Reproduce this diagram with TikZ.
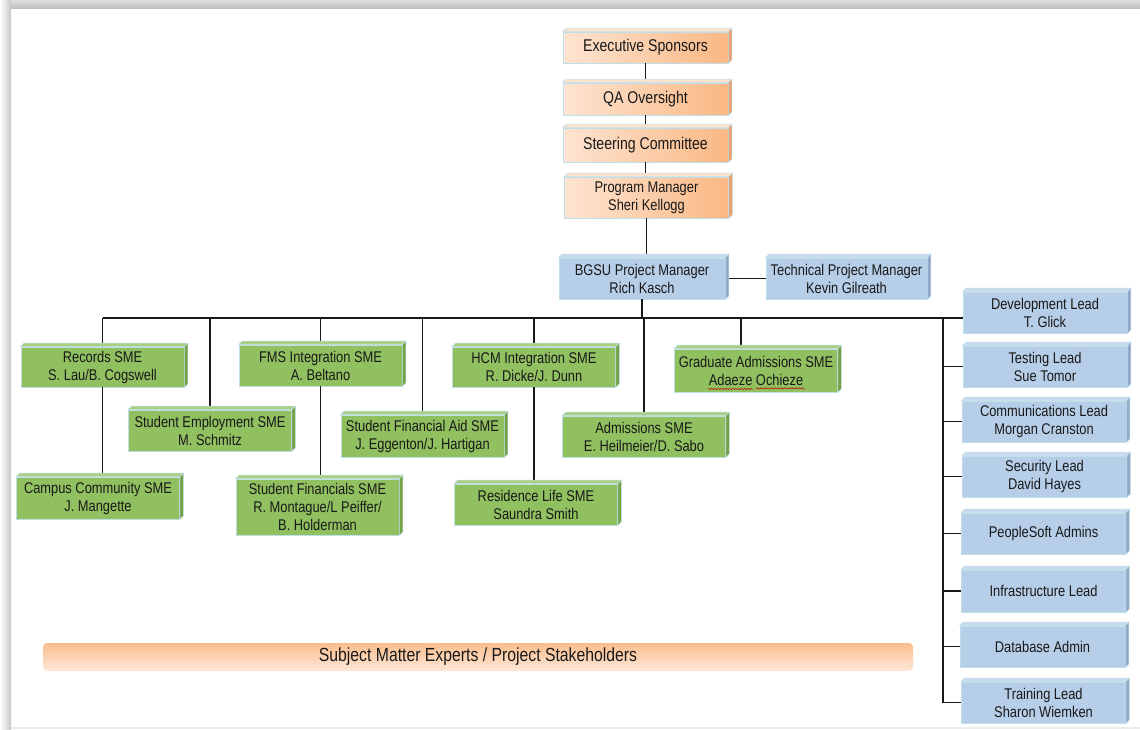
\documentclass[tikz,border=0pt]{standalone}
\usepackage{fontspec}
\setmainfont{Liberation Sans}[FakeStretch=0.83]
\usetikzlibrary{positioning,decorations.pathmorphing}

\definecolor{rim}{RGB}{190,222,232}
\definecolor{orgL}{RGB}{253,228,210}
\definecolor{orgR}{RGB}{250,184,132}
\definecolor{orgS}{RGB}{232,160,108}
\definecolor{orgT}{RGB}{253,226,206}
\definecolor{bluF}{RGB}{183,206,233}
\definecolor{bluS}{RGB}{146,170,200}
\definecolor{bluT}{RGB}{202,219,239}
\definecolor{grnF}{RGB}{145,192,96}
\definecolor{grnS}{RGB}{118,163,70}
\definecolor{grnT}{RGB}{170,206,130}
\definecolor{ink}{RGB}{25,25,25}
\definecolor{banT}{RGB}{251,190,140}
\definecolor{banB}{RGB}{253,231,216}

\begin{document}
\begin{tikzpicture}[x=1pt,y=-1pt,
    box/.style={draw=rim,line width=0.8pt,text=ink,align=center,inner sep=1pt,
      font=\fontsize{15.5}{18}\selectfont,minimum width=163pt,minimum height=41pt},
    orn/.style={box,left color=orgL,right color=orgR,font=\fontsize{17}{19}\selectfont,minimum width=165pt},
    blu/.style={box,fill=bluF},
    grn/.style={box,fill=grnF},
    banner/.style={rounded corners=4pt,top color=banT,bottom color=banB,text=ink,
      minimum width=870pt,minimum height=28pt,font=\fontsize{19}{21}\selectfont},
    link/.style={draw=ink,line width=1.2pt}]
    \useasboundingbox (0,0) rectangle (1140,729);
    % page frame
    \fill[white] (0,0) rectangle (1140,729);
    \shade[top color=gray!25,bottom color=gray!50] (0,0) rectangle (1140,8);
    \shade[left color=white,right color=gray!45] (0,0) rectangle (11,729);
    \fill[gray!15] (11,727) rectangle (1140,729);

    % top chain
    \node[orn,minimum height=31pt] (exec) at (645.5,47.5) {Executive Sponsors};
    \node[orn,minimum height=32pt] (qa) at (645.5,99) {QA Oversight};
    \node[orn,minimum height=34pt] (steer) at (645.5,145) {Steering Committee};
    \node[orn,font=\fontsize{15.5}{18}\selectfont,minimum width=164pt] (pm) at (646.5,197.5) {Program Manager\\Sheri Kellogg};
    \node[blu,minimum width=166pt] (bgsu) at (642,278.5) {BGSU Project Manager\\Rich Kasch};
    \node[blu,minimum width=161pt] (tech) at (846.5,278.5) {Technical Project Manager\\Kevin Gilreath};

    % leads
    \node[blu,minimum width=164pt] (dev) at (1045,312.5) {Development Lead\\T. Glick};
    \node[blu,minimum width=164pt] (test) at (1045,366.5) {Testing Lead\\Sue Tomor};
    \node[blu,minimum width=164pt] (comm) at (1044,421.5) {Communications Lead\\Morgan Cranston};
    \node[blu,minimum width=164pt] (sec) at (1044.5,476.5) {Security Lead\\David Hayes};
    \node[blu,minimum width=164pt] (psa) at (1043.5,533.5) {PeopleSoft Admins};
    \node[blu,minimum width=164pt,minimum height=42pt] (infra) at (1043.5,591) {Infrastructure Lead};
    \node[blu,minimum width=165pt] (dba) at (1042.5,646.5) {Database Admin};
    \node[blu,minimum width=164pt] (train) at (1043.5,702.5) {Training Lead\\Sharon Wiemken};

    % SMEs
    \node[grn,minimum height=40pt] (rec) at (102.5,367) {Records SME\\S. Lau/B. Cogswell};
    \node[grn] (semp) at (210,430.5) {Student Employment SME\\M. Schmitz};
    \node[grn,minimum height=42pt] (camp) at (98,498) {Campus Community SME\\J. Mangette};
    \node[grn] (fms) at (320.5,365.5) {FMS Integration SME\\A. Beltano};
    \node[grn,minimum height=56pt] (sfin) at (317.5,507) {Student Financials SME\\R. Montague/L Peiffer/\\B. Holderman};
    \node[grn,minimum height=42pt] (sfa) at (422.5,436) {Student Financial Aid SME\\J. Eggenton/J. Hartigan};
    \node[grn,minimum height=40pt] (hcm) at (534,367) {HCM Integration SME\\R. Dicke/J. Dunn};
    \node[grn] (res) at (536,504.5) {Residence Life SME\\Saundra Smith};
    \node[grn] (adm) at (644,436.5) {Admissions SME\\E. Heilmeier/D. Sabo};
    \node[grn,minimum height=43pt] (grad) at (756,370.5) {Graduate Admissions SME\\Adaeze Ochieze};

    \node[banner] (sme) at (478,657) {Subject Matter Experts / Project Stakeholders};

    % connectors
    \coordinate (bus) at (643,318);
    \coordinate (rail) at (943,318);
    \draw[link] (exec) -- (qa);
    \draw[link] (qa) -- (steer);
    \draw[link] (steer.south) -- (steer.south |- pm.north);
    \draw[link] (pm.south) -- (pm.south |- bgsu.north);
    \draw[link] (bgsu) -- (tech);
    \draw[link] (bgsu.south) -- (bgsu.south |- bus);
    \draw[link] (rec.north |- bus) -- (bus -| dev.west);
    \draw[link] (rail) |- (train.west);
    \foreach \n in {test,comm,sec,psa,infra,dba}
      \draw[link] (rail |- \n.west) -- (\n.west);
    \foreach \n in {rec,semp,fms,sfa,hcm,adm}
      \draw[link] (\n.north |- bus) -- (\n.north);
    \draw[link] ([xshift=-15pt]grad.north |- bus) -- ([xshift=-15pt]grad.north);
    \draw[link] (rec.south) -- (rec.south |- camp.north);
    \draw[link] (fms.south) -- (fms.south |- sfin.north);
    \draw[link] (hcm.south) -- (hcm.south |- res.north);

    % box depth
    \foreach \list/\t/\s in {{exec,qa,steer,pm}/orgT/orgS,
        {bgsu,tech,dev,test,comm,sec,psa,infra,dba,train}/bluT/bluS,
        {rec,semp,camp,fms,sfin,sfa,hcm,res,adm,grad}/grnT/grnS}
      \foreach \n in \list {
        \filldraw[draw=rim,line width=0.6pt,fill=\t] (\n.north west) -- ++(3.5pt,3.5pt)
          -- ([shift={(3.5pt,3.5pt)}]\n.north east) -- (\n.north east) -- cycle;
        \filldraw[draw=rim,line width=0.6pt,fill=\s] (\n.north east) -- ++(3.5pt,3.5pt)
          -- ([shift={(3.5pt,3.5pt)}]\n.south east) -- (\n.south east) -- cycle;
      }

    % spelling marks
    \draw[red!80!black,line width=0.5pt,decorate,decoration={snake,amplitude=0.6pt,segment length=3pt}]
      (708,389) -- (752,389) (756,389) -- (805,389);
  \end{tikzpicture}
\end{document}
